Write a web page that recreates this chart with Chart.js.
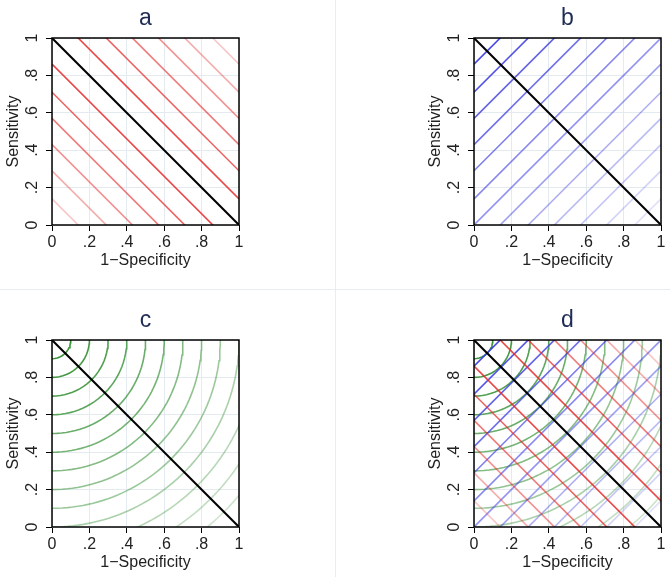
<!DOCTYPE html>
<html>
<head>
<meta charset="utf-8">
<script src="https://cdn.jsdelivr.net/npm/chart.js@4.4.0/dist/chart.umd.min.js"></script>
<style>
  html, body { margin: 0; padding: 0; background: #fff; }
  #wrap { position: relative; width: 672px; height: 577px; overflow: hidden; }
  .panel { position: absolute; }
  .vline { position: absolute; left: 335px; top: 0; width: 1px; height: 577px; background: #e7edf0; }
  .hline { position: absolute; left: 0; top: 289px; width: 670px; height: 1px; background: #e7edf0; }
</style>
</head>
<body>
<div id="wrap">
  <div class="vline"></div>
  <div class="hline"></div>
  <canvas class="panel" id="pa" width="250" height="275" style="left:0;top:0"></canvas>
  <canvas class="panel" id="pb" width="250" height="275" style="left:422px;top:0"></canvas>
  <canvas class="panel" id="pc" width="250" height="275" style="left:0;top:302px"></canvas>
  <canvas class="panel" id="pd" width="250" height="275" style="left:422px;top:302px"></canvas>
</div>
<script>
// --- данные ---
const tickValues = [0, 0.2, 0.4, 0.6, 0.8, 1];
const tickLabels = ["0", ".2", ".4", ".6", ".8", "1"];
const chanceLine = [{ x: 0, y: 1 }, { x: 1, y: 0 }];
// линии x + y = c (красные)
const redIntercepts = [0.14, 0.29, 0.43, 0.57, 0.71, 0.86, 1.14, 1.29, 1.43, 1.57, 1.71, 1.86];
// линии y = x + c (синие)
const blueIntercepts = [0.86, 0.71, 0.57, 0.43, 0.29, 0.14, 0, -0.14, -0.29, -0.43, -0.57, -0.71, -0.86];
// дуги вокруг (0, 1) (зелёные)
const greenRadii = [0.1, 0.2, 0.3, 0.4, 0.5, 0.6, 0.7, 0.8, 0.9, 1.0, 1.1, 1.2, 1.3, 1.4];
const panelNames = ["a", "b", "c", "d"];

const FONT = '"Liberation Sans", Arial, sans-serif';

// --- наборы линий ---
function line(data, color, width) {
  return { data, borderColor: color, borderWidth: width, pointRadius: 0, tension: 0, clip: 0, showLine: true };
}
const blackSet = () => line(chanceLine, "#000", 2);
const redSets = () => redIntercepts.map(c =>
  line([{ x: 0, y: c }, { x: 1, y: c - 1 }], `rgba(228,45,45,${(1 - Math.abs(c - 1) * 0.85).toFixed(2)})`, 1.6));
const blueSets = () => blueIntercepts.map(c =>
  line([{ x: 0, y: c }, { x: 1, y: 1 + c }], `rgba(60,60,225,${(0.55 + c * 0.45).toFixed(2)})`, 1.6));
const greenSets = () => greenRadii.map(r => {
  // точек меньше на малых дугах, иначе chart.js рисует их ступеньками
  const steps = Math.ceil(r * 50) + 6;
  const pts = [];
  for (let i = 0; i <= steps; i++) {
    const t = (i / steps) * Math.PI / 2;
    pts.push({ x: r * Math.sin(t), y: 1 - r * Math.cos(t) });
  }
  return line(pts, `rgba(45,140,45,${(0.95 - (r - 0.1) * 0.6).toFixed(2)})`, 1.6);
});

// --- плагины ---
const frame = {
  id: "frame",
  afterDatasetsDraw(chart) {
    const { ctx, chartArea: a } = chart;
    ctx.save();
    ctx.strokeStyle = "#000";
    ctx.lineWidth = 1.5;
    ctx.strokeRect(a.left, a.top, a.right - a.left, a.bottom - a.top);
    ctx.restore();
  }
};
const panelTitle = {
  id: "panelTitle",
  afterDraw(chart, args, opts) {
    const { ctx, chartArea: a } = chart;
    ctx.save();
    ctx.font = "23px " + FONT;
    ctx.fillStyle = "#1f2b55";
    ctx.textAlign = "center";
    ctx.textBaseline = "alphabetic";
    ctx.fillText(opts.text, (a.left + a.right) / 2, a.top - 13);
    ctx.restore();
  }
};

function axis(extra) {
  return Object.assign({
    type: "linear", min: 0, max: 1,
    afterBuildTicks: s => { s.ticks = tickValues.map(v => ({ value: v })); },
    grid: { color: "#e3ebf1", tickColor: "#000", tickLength: 6, lineWidth: 1 },
    border: { display: false },
  }, extra);
}

function makeChart(id, name, datasets) {
  return new Chart(document.getElementById(id), {
    type: "scatter",
    data: { datasets },
    plugins: [frame, panelTitle],
    options: {
      responsive: false,
      animation: false,
      events: [],
      layout: { padding: { top: 38, right: 11, bottom: 0, left: 0 } },
      plugins: { legend: { display: false }, tooltip: { enabled: false }, panelTitle: { text: name } },
      scales: {
        x: axis({
          position: "bottom",
          afterFit: s => { s.height = 50; },
          ticks: { color: "#222", font: { family: FONT, size: 16 }, padding: 2, maxRotation: 0,
                   callback: (v, i) => tickLabels[i] },
          title: { display: true, text: "1\u2212Specificity", color: "#222",
                   font: { family: FONT, size: 16 }, padding: { top: 0, bottom: 5 } },
        }),
        y: axis({
          position: "left",
          afterFit: s => { s.width = 52; },
          ticks: { color: "#222", font: { family: FONT, size: 16 }, padding: 7,
                   minRotation: 90, maxRotation: 90, crossAlign: "center",
                   callback: (v, i) => tickLabels[i] },
          title: { display: true, text: "Sensitivity", color: "#222",
                   font: { family: FONT, size: 16 }, padding: { top: 4, bottom: 0 } },
        }),
      },
    },
  });
}

makeChart("pa", panelNames[0], [blackSet(), ...redSets()]);
makeChart("pb", panelNames[1], [blackSet(), ...blueSets()]);
makeChart("pc", panelNames[2], [blackSet(), ...greenSets()]);
makeChart("pd", panelNames[3], [blackSet(), ...redSets(), ...blueSets(), ...greenSets()]);
</script>
</body>
</html>
